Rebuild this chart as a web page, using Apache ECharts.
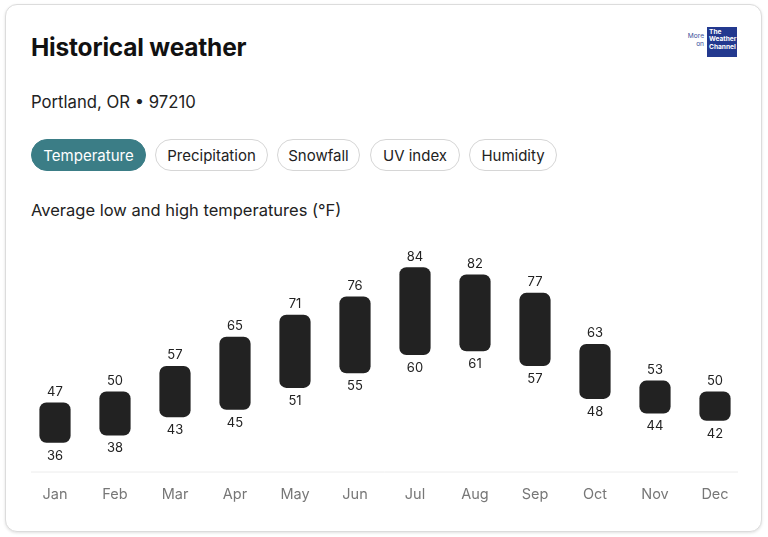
<!DOCTYPE html>
<html>
<head>
<meta charset="utf-8">
<script src="https://cdn.jsdelivr.net/npm/echarts@6/dist/echarts.min.js"></script>
<style>
html,body{margin:0;padding:0;width:768px;height:537px;background:#fff;font-family:Inter,"Noto Sans",sans-serif;overflow:hidden;}
#card{position:absolute;left:5px;top:4px;width:755px;height:526px;border:1px solid #dcdcdc;border-radius:12px;box-shadow:0 1px 3px rgba(0,0,0,0.12);background:#fff;}
#title{position:absolute;left:31px;top:32px;font-size:24.5px;font-weight:700;color:#111;letter-spacing:-0.2px;}
#loc{position:absolute;left:31px;top:92px;font-size:16.7px;color:#222;}
.btn{position:absolute;top:139px;height:32px;line-height:32px;border:1px solid #d6d6d6;border-radius:17px;font-size:15px;color:#222;text-align:center;box-sizing:border-box;}
.btn.on{background:#3b7d86;border-color:#3b7d86;color:#fff;}
#sub{position:absolute;left:31px;top:200px;font-size:16.5px;color:#222;}
#more{position:absolute;right:64px;top:33px;font-size:6.6px;line-height:7.5px;color:#3a4f9a;text-align:right;white-space:nowrap;}
#logo{position:absolute;left:707px;top:27px;width:30px;height:30px;background:#23398f;color:#fff;font-size:6.6px;line-height:7.4px;font-weight:700;padding:2px 0 0 2px;box-sizing:border-box;}
#chart{position:absolute;left:0;top:0;width:768px;height:537px;}
</style>
</head>
<body>
<div id="card"></div>
<div id="title">Historical weather</div>
<div id="more">More<br>on</div>
<div id="logo">The<br>Weather<br>Channel</div>
<div id="loc">Portland, OR • 97210</div>
<div class="btn on" style="left:31px;width:115px;">Temperature</div>
<div class="btn" style="left:155px;width:113px;">Precipitation</div>
<div class="btn" style="left:277px;width:83px;">Snowfall</div>
<div class="btn" style="left:370px;width:90px;">UV index</div>
<div class="btn" style="left:469px;width:88px;">Humidity</div>
<div id="sub">Average low and high temperatures (°F)</div>
<div id="chart"></div>
<script>
const months = ['Jan','Feb','Mar','Apr','May','Jun','Jul','Aug','Sep','Oct','Nov','Dec'];
const lows  = [36, 38, 43, 45, 51, 55, 60, 61, 57, 48, 44, 42];
const highs = [47, 50, 57, 65, 71, 76, 84, 82, 77, 63, 53, 50];

const data = months.map((m, i) => [i, lows[i], highs[i]]);

const chart = echarts.init(document.getElementById('chart'), null, {renderer: 'canvas'});
chart.setOption({
  animation: false,
  backgroundColor: 'transparent',
  grid: {left: 25, right: 23, top: 238, bottom: 65},
  xAxis: {
    type: 'category',
    data: months,
    axisLine: {show: false},
    axisTick: {show: false},
    axisLabel: {color: '#777', fontSize: 14.5, margin: 15, fontFamily: 'Inter'}
  },
  yAxis: {
    type: 'value',
    min: 28, max: 92,
    show: false,
    splitLine: {show: false}
  },
  series: [{
    type: 'custom',
    data: data,
    encode: {x: 0, y: [1, 2]},
    renderItem: function (params, api) {
      const lo = api.value(1), hi = api.value(2);
      const top = api.coord([api.value(0), hi]);
      const bot = api.coord([api.value(0), lo]);
      const w = api.size([1, 0])[0] * 0.52;
      return {
        type: 'group',
        children: [
          {type: 'rect', shape: {x: top[0] - w / 2, y: top[1], width: w, height: bot[1] - top[1], r: 7}, style: {fill: '#222222'}},
          {type: 'text', style: {text: String(hi), x: top[0], y: top[1] - 10.5, align: 'center', verticalAlign: 'middle', fill: '#222', font: '13px Inter'}},
          {type: 'text', style: {text: String(lo), x: bot[0], y: bot[1] + 13, align: 'center', verticalAlign: 'middle', fill: '#222', font: '13px Inter'}}
        ]
      };
    }
  }]
});
// baseline, slightly inset from the category band, at the axis minimum
const yBase = chart.convertToPixel({yAxisIndex: 0}, 28);
chart.setOption({
  graphic: [{type: 'line', shape: {x1: 31, y1: yBase, x2: 738, y2: yBase}, style: {stroke: '#ececec', lineWidth: 1}, silent: true}]
});
</script>
</body>
</html>
